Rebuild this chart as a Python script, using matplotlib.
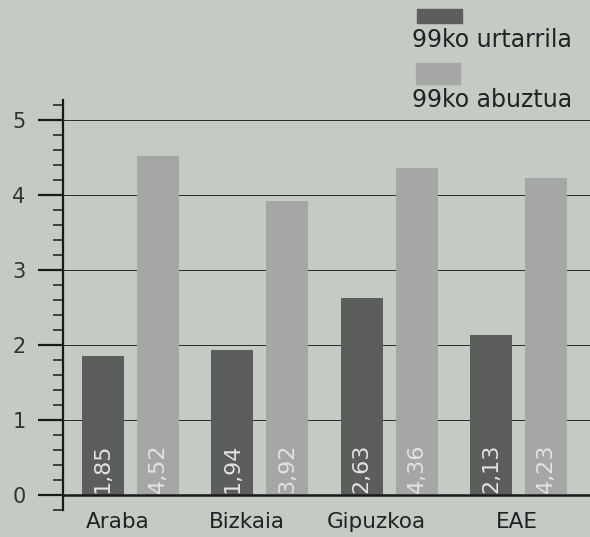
import matplotlib
matplotlib.use("Agg")
import matplotlib.pyplot as plt
from matplotlib.patches import Rectangle
from matplotlib.ticker import MultipleLocator
import numpy as np

categories = ["Araba", "Bizkaia", "Gipuzkoa", "EAE"]
urtarrila = [1.85, 1.94, 2.63, 2.13]
abuztua = [4.52, 3.92, 4.36, 4.23]
series_names = ["99ko urtarrila", "99ko abuztua"]
yticks = [0, 1, 2, 3, 4, 5]

bg = "#c4cac4"
dark = "#5b5e5b"
light = "#a4a7a4"
txt = "#222222"

plt.rcParams['font.family'] = ['DejaVu Sans']

fig = plt.figure(figsize=(5.9, 5.37), dpi=100)
fig.patch.set_facecolor(bg)
ax = fig.add_axes([0.1068, 0.0503, 0.8932, 0.7639])
ax.set_facecolor(bg)

x = np.arange(len(categories))
w = 0.325
off = 0.2125
b1 = ax.bar(x - off, urtarrila, w, color=dark, zorder=3)
b2 = ax.bar(x + off, abuztua, w, color=light, zorder=3)

for bars, vals in ((b1, urtarrila), (b2, abuztua)):
    for r, v in zip(bars, vals):
        ax.text(r.get_x() + r.get_width() / 2, 0.03, f"{v:.2f}".replace(".", ","),
                rotation=90, ha="center", va="bottom", color="#e2e4e2",
                fontsize=16, zorder=4)

ax.set_xlim(-0.522, 3.554)
ax.set_ylim(-0.2, 5.27)

for sp in ("top", "right", "bottom"):
    ax.spines[sp].set_visible(False)
ax.spines["left"].set_linewidth(1.6)
ax.spines["left"].set_color("#1a1a1a")

ax.set_yticks(yticks)
ax.yaxis.set_minor_locator(MultipleLocator(0.2))
ax.tick_params(axis="y", which="major", length=18, width=1.6, pad=9, labelsize=15,
               colors="#1a1a1a", labelcolor="#333333")
ax.tick_params(axis="y", which="minor", length=7, width=1.1, colors="#1a1a1a")
ax.set_xticks([])

for t in yticks[1:]:
    ax.axhline(t, color="#2a2a2a", lw=0.7, zorder=1)
ax.axhline(0, color="#1a1a1a", lw=1.8, zorder=5)

label_off = [-0.10, -0.10, -0.10, -0.01]
for i, c in enumerate(categories):
    ax.text(x[i] + label_off[i], -0.36, c, ha="center", va="center",
            fontsize=15.5, color=txt, clip_on=False)

# legend
W, H = 590, 537
def rect(px0, py0, px1, py1, color):
    fig.patches.append(Rectangle((px0 / W, 1 - py1 / H), (px1 - px0) / W, (py1 - py0) / H,
                                 transform=fig.transFigure, color=color, zorder=5))
rect(417, 9, 462, 23, dark)
rect(416, 63, 460, 84, light)
fig.text(412 / W, 1 - 40 / H, series_names[0], ha="left", va="center", fontsize=17, color=txt)
fig.text(412 / W, 1 - 100 / H, series_names[1], ha="left", va="center", fontsize=17, color=txt)

fig.savefig("out.png", dpi=100, facecolor=bg)
